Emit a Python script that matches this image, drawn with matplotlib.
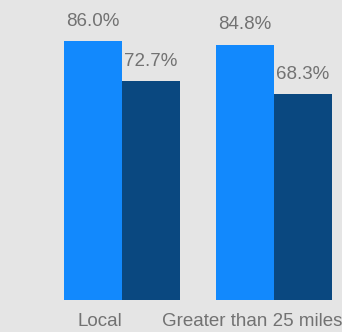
import matplotlib
matplotlib.use("Agg")
import matplotlib.pyplot as plt
import numpy as np

categories = ["Local", "Greater than 25 miles"]
series_a = [86.0, 84.8]
series_b = [72.7, 68.3]

bg = "#e5e5e5"
blue = "#1289fd"
dark = "#0a4880"
grey = "#727272"

plt.rcParams["font.family"] = ["Liberation Sans", "DejaVu Sans"]

fig = plt.figure(figsize=(3.42, 3.32), dpi=100, facecolor=bg)
ax = fig.add_axes([0, 32 / 332, 1, 300 / 332])
ax.set_facecolor(bg)

x = np.arange(len(categories))
w = 0.38
b1 = ax.bar(x - w / 2, series_a, width=w, color=blue)
b2 = ax.bar(x + w / 2, series_b, width=w, color=dark)

for bars in (b1, b2):
    for r in bars:
        ax.text(r.get_x() + r.get_width() / 2, r.get_height() + 3.8,
                "%.1f%%" % r.get_height(), ha="center", va="bottom",
                fontsize=13.5, color=grey)

ax.set_ylim(0, 99.7)
ax.set_xlim(-122 / 152, 220 / 152)
ax.set_xticks(x - 0.145)
ax.set_xticklabels(categories, fontsize=13.5, color=grey)
ax.tick_params(length=0, pad=9)
ax.set_yticks([])
for s in ax.spines.values():
    s.set_visible(False)

fig.savefig("out.png", dpi=100, facecolor=bg)
